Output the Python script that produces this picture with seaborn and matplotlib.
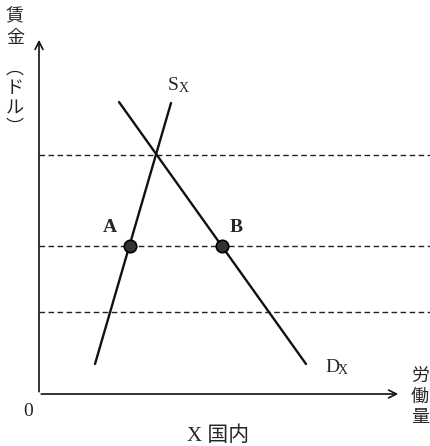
import matplotlib
matplotlib.use("Agg")
import pandas as pd
import seaborn as sns
from matplotlib import pyplot as plt

# wage levels (dashed horizontal lines), in chart units
wage_levels = [239, 148, 82]

# supply curve Sx and demand curve Dx end points
supply_q = [56, 132]
supply_w = [30, 291]
demand_q = [80, 267]
demand_w = [292, 30]

# labelled points on the middle wage line
point_names = ["A", "B"]
point_q = [91, 183]
point_w = [148, 148]

sns.set_theme(style="white")
plt.rcParams["font.family"] = ["Liberation Serif", "Noto Sans CJK JP", "DejaVu Sans"]
cjk = ["Noto Sans CJK JP", "DejaVu Sans"]

fig = plt.figure(figsize=(4.30, 4.46), dpi=100)
ax = fig.add_axes([0, 0, 1, 1])
ax.set_xlim(-39, 391)
ax.set_ylim(-52, 394)
ax.axis("off")

# dashed wage lines
for w in wage_levels:
    ax.plot([0, 391], [w, w], color="#222222", lw=1.0, ls=(0, (4, 2.5)))

# axes with arrows
ax.annotate("", xy=(0, 357), xytext=(0, -0.5),
            arrowprops=dict(arrowstyle="->", lw=1.2, color="#111111", mutation_scale=14))
ax.annotate("", xy=(362, 0), xytext=(-0.5, 0),
            arrowprops=dict(arrowstyle="->", lw=1.2, color="#111111", mutation_scale=14))

curves = pd.DataFrame({
    "q": supply_q + demand_q,
    "w": supply_w + demand_w,
    "curve": ["S", "S", "D", "D"],
})
sns.lineplot(data=curves, x="q", y="w", units="curve", estimator=None,
             color="#111111", lw=1.7, sort=False, ax=ax)

pts = pd.DataFrame({"q": point_q, "w": point_w, "name": point_names})
sns.scatterplot(data=pts, x="q", y="w", s=80, color="#333333",
                edgecolor="#000000", linewidth=1.2, zorder=5, ax=ax)

# point labels
ax.text(point_q[0] - 20, point_w[0] + 18, point_names[0], fontsize=14,
        fontweight="bold", ha="center", va="center")
ax.text(point_q[1] + 14, point_w[1] + 18, point_names[1], fontsize=14,
        fontweight="bold", ha="center", va="center")

# curve labels
ax.text(129, 308, "S", fontsize=14, ha="left", va="center")
ax.text(140, 305, "X", fontsize=10, ha="left", va="center")
ax.text(286, 26, "D", fontsize=14, ha="left", va="center")
ax.text(299, 23, "X", fontsize=10, ha="left", va="center")

# origin and x label
ax.text(-11, -18, "0", fontsize=14, ha="center", va="center")
ax.text(179, -42, "X 国内", fontsize=15, ha="center", va="center")

# vertical y-axis label
ylab_chars = ["賃", "金", "︵", "ド", "ル", "︶"]
ylab_y = [378, 356, 325, 306, 286, 266]
for ch, y in zip(ylab_chars, ylab_y):
    ax.text(-24, y, ch, fontsize=13, ha="center", va="center", family=cjk)

# vertical x-axis label
xlab_chars = ["労", "働", "量"]
for i, ch in enumerate(xlab_chars):
    ax.text(381, 17 - 20 * i, ch, fontsize=13, ha="center", va="center", family=cjk)

fig.savefig("out.png", dpi=100)
